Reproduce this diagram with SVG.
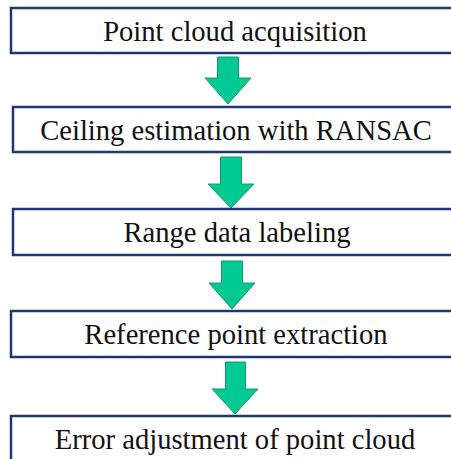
<svg xmlns="http://www.w3.org/2000/svg" width="451" height="459" viewBox="0 0 451 459">
<style>
.box{fill:#ffffff;stroke:#1f3872;stroke-width:2.5}
.lbl{font-size:28.6px;fill:#111111;text-anchor:middle}
.arr{fill:#00c994;stroke:#1a9a6c;stroke-width:1}
</style>
<rect width="451" height="459" fill="#ffffff"/>
<g id="connectors">
<polygon class="arr" points="217.5,57 238.5,57 238.5,78 251,78 228,104 205,78 217.5,78"/>
<polygon class="arr" points="220.5,157 241.5,157 241.5,184 254,184 231,208 208,184 220.5,184"/>
<polygon class="arr" points="221.5,261 242.5,261 242.5,283 255,283 232,309 209,283 221.5,283"/>
<polygon class="arr" points="225.5,362 245.5,362 245.5,389 258,389 235,414 212,389 225.5,389"/>
</g>
<g font-family="Liberation Serif, DejaVu Serif, serif">
<g id="n1"><rect class="box" x="11" y="8" width="450" height="45"/><text class="lbl" x="235" y="41">Point cloud acquisition</text></g>
<g id="n2"><rect class="box" x="13" y="107" width="450" height="45"/><text class="lbl" x="236" y="140">Ceiling estimation with RANSAC</text></g>
<g id="n3"><rect class="box" x="13" y="209" width="450" height="46"/><text class="lbl" x="237" y="242">Range data labeling</text></g>
<g id="n4"><rect class="box" x="11" y="311" width="450" height="46"/><text class="lbl" x="236" y="344">Reference point extraction</text></g>
<g id="n5"><rect class="box" x="11" y="416" width="450" height="60"/><text class="lbl" x="235" y="449">Error adjustment of point cloud</text></g>
</g>
</svg>
